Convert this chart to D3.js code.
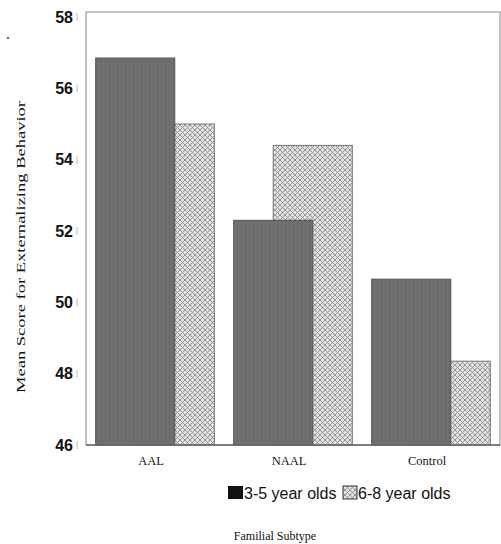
<!DOCTYPE html>
<html><head><meta charset="utf-8">
<script src="https://cdn.jsdelivr.net/npm/d3@7"></script>
<style>body{margin:0;background:#fff}</style>
</head><body>
<svg id="c" width="501" height="544"></svg>
<script>
const categories = ["AAL", "NAAL", "Control"];
const seriesNames = ["3-5 year olds", "6-8 year olds"];
const young = [56.85, 52.3, 50.65];
const old = [55.0, 54.4, 48.35];
const yTicks = [46, 48, 50, 52, 54, 56, 58];

const svg = d3.select("#c");
const L = 86, R = 500, T = 12, B = 445;
const y = d3.scaleLinear().domain([46, 58]).range([445, 17]);
const x = d3.scaleBand().domain(categories).range([L, R]).paddingInner(0.14).paddingOuter(0.07);
const bw = x.bandwidth() / 1.5;

const defs = svg.append("defs");
const pat = defs.append("pattern").attr("id", "hatch").attr("patternUnits", "userSpaceOnUse")
  .attr("width", 5).attr("height", 5);
pat.append("rect").attr("width", 5).attr("height", 5).attr("fill", "#e2e2e2");
pat.append("path").attr("d", "M0,0L5,5M5,0L0,5").attr("stroke", "#8c8c8c").attr("stroke-width", 0.9);
const pat2 = defs.append("pattern").attr("id", "dark").attr("patternUnits", "userSpaceOnUse")
  .attr("width", 4).attr("height", 4);
pat2.append("rect").attr("width", 4).attr("height", 4).attr("fill", "#6e6e6e");
pat2.append("rect").attr("x", 1).attr("y", 1).attr("width", 1).attr("height", 1).attr("fill", "#5e5e5e");
pat2.append("rect").attr("x", 3).attr("y", 2).attr("width", 1).attr("height", 1).attr("fill", "#7a7a7a");

// frame
svg.append("rect").attr("x", L).attr("y", T).attr("width", R - L).attr("height", B - T)
  .attr("fill", "none").attr("stroke", "#9a9a9a").attr("stroke-width", 1.2);

// hatched (behind)
svg.append("g").selectAll("rect").data(categories).join("rect")
  .attr("x", d => x(d) + bw / 2)
  .attr("y", (d, i) => y(old[i]))
  .attr("width", bw)
  .attr("height", (d, i) => y(46) - y(old[i]))
  .attr("fill", "url(#hatch)").attr("stroke", "#777").attr("stroke-width", 1);

// dark (front)
svg.append("g").selectAll("rect").data(categories).join("rect")
  .attr("x", d => x(d))
  .attr("y", (d, i) => y(young[i]))
  .attr("width", bw)
  .attr("height", (d, i) => y(46) - y(young[i]))
  .attr("fill", "url(#dark)").attr("stroke", "#555").attr("stroke-width", 1);

svg.append("line").attr("x1", L).attr("x2", R).attr("y1", B).attr("y2", B)
  .attr("stroke", "#666").attr("stroke-width", 1.5);

// y axis
const ya = svg.append("g").attr("transform", "translate(78,0)")
  .call(d3.axisLeft(y).tickValues(yTicks).tickSize(0).tickPadding(5));
ya.select(".domain").remove();
ya.selectAll("text").attr("font-family", "Liberation Sans, Arial, sans-serif")
  .attr("font-size", 16).attr("font-weight", "bold").attr("fill", "#111");
svg.append("g").selectAll("line").data(yTicks).join("line")
  .attr("x1", 77).attr("x2", 77).attr("y1", d => y(d) - 4).attr("y2", d => y(d) + 4)
  .attr("stroke", "#bbb").attr("stroke-width", 1);

// x labels
const xa = svg.append("g").attr("transform", `translate(-4,${B})`)
  .call(d3.axisBottom(x).tickSize(0).tickPadding(11));
xa.select(".domain").remove();
xa.selectAll("text").attr("font-family", "Liberation Serif, Times New Roman, serif")
  .attr("font-size", 12.5).attr("fill", "#111");

// legend
const lg = svg.append("g");
lg.append("rect").attr("x", 228).attr("y", 486).attr("width", 15).attr("height", 13).attr("fill", "#111");
lg.append("text").attr("x", 244).attr("y", 499).text(seriesNames[0])
  .attr("font-family", "Liberation Sans, Arial, sans-serif").attr("font-size", 16).attr("fill", "#111");
lg.append("rect").attr("x", 343).attr("y", 486).attr("width", 14).attr("height", 13)
  .attr("fill", "url(#hatch)").attr("stroke", "#333").attr("stroke-width", 1);
lg.append("text").attr("x", 358).attr("y", 499).text(seriesNames[1])
  .attr("font-family", "Liberation Sans, Arial, sans-serif").attr("font-size", 16).attr("fill", "#111");

// titles
svg.append("text").attr("x", 275).attr("y", 540).attr("text-anchor", "middle")
  .attr("font-family", "Liberation Serif, Times New Roman, serif").attr("font-size", 12)
  .attr("fill", "#111").text("Familial Subtype");
svg.append("text").attr("transform", "translate(25,247) rotate(-90)").attr("text-anchor", "middle")
  .attr("font-family", "Liberation Serif, Times New Roman, serif").attr("font-size", 12)
  .attr("textLength", 292).attr("lengthAdjust", "spacingAndGlyphs")
  .attr("fill", "#111").text("Mean Score for Externalizing Behavior");
svg.append("circle").attr("cx", 8).attr("cy", 38).attr("r", 1).attr("fill", "#333");
</script>
</body></html>
